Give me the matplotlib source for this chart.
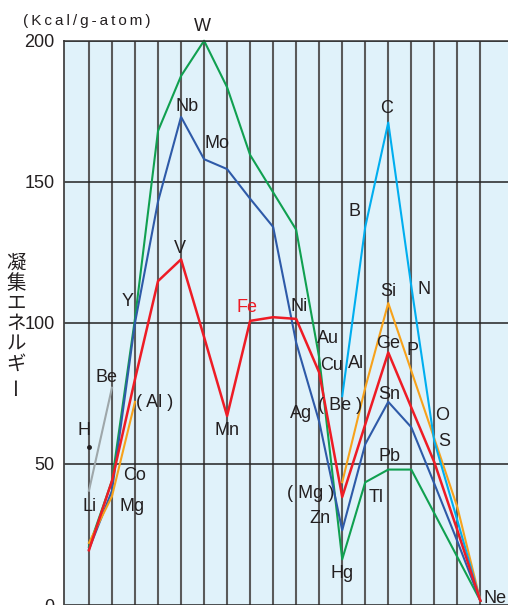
import matplotlib
matplotlib.use("Agg")
import matplotlib.pyplot as plt

# group columns 1..18 of the periodic table
columns = list(range(1, 19))

# cohesive energy (kcal/g-atom)
period2_gray_cols = [1, 2]
period2_gray = [40.5, 77]
period2_cols = [12, 13, 14, 15, 16, 17, 18]
period2 = [74, 134, 171, 113, 58, 30, 1.5]
period3_left_cols = [1, 2, 3]
period3_left = [22, 38.5, 72]
period3_cols = [12, 13, 14, 15, 16, 17, 18]
period3 = [43.5, 77, 107, 83, 59, 34.7, 1.5]
period4 = [19.4, 44, 80, 114.8, 122.5, 95, 67, 100.7, 102, 101.4, 82.4, 38.3,
           64, 89.5, 70, 50.6, 26.5, 1.5]
period5 = [19.7, 40.5, 100, 143, 173, 158, 154.5, 144, 134, 93, 65, 26.5,
           57, 72, 63, 43, 22.6, 1.5]
period6_cols = [1, 2, 3, 4, 5, 6, 7, 8, 10, 11, 12, 13, 14, 15, 18]
period6 = [20.6, 44, 101.5, 168, 187.5, 200, 183.5, 159.5, 133, 87.7, 16.2,
           43.5, 48, 48, 1.5]
hydrogen = (1, 56)

# element labels: (text, column, value)
labels = [
    ("W", 5.93, 205), ("Nb", 5.25, 176.7), ("Mo", 6.55, 163.5),
    ("C", 13.94, 175.8), ("B", 12.53, 139.5), ("N", 15.57, 111.9),
    ("V", 4.96, 126.5), ("Y", 2.68, 107.5), ("Ni", 10.13, 105.7),
    ("Si", 14.0, 111), ("Au", 11.39, 94.4), ("Cu", 11.53, 85),
    ("Al", 12.6, 85.6), ("Ge", 14.0, 92.6), ("P", 15.06, 90.2),
    ("Sn", 14.04, 74.5), ("( Be )", 11.91, 70.7), ("Ag", 10.2, 68),
    ("O", 16.33, 67), ("S", 16.45, 57.9), ("Pb", 14.06, 52.8),
    ("( Mg )", 10.64, 39.6), ("Tl", 13.48, 38.2), ("Zn", 11.04, 30.7),
    ("Hg", 11.99, 11), ("Ne", 18.64, 2.4), ("H", 0.78, 62),
    ("Be", 1.77, 80.7), ("( Al )", 3.87, 71.9), ("Co", 3.0, 46),
    ("Li", 1.01, 35), ("Mg", 2.86, 35), ("Mn", 6.99, 61.8),
]

plt.rcParams['font.family'] = ['Liberation Sans', 'DejaVu Sans']

fig = plt.figure(figsize=(5.08, 6.05), dpi=100)
ax = fig.add_axes([64.3 / 508, 0, 1 - 64.3 / 508, 1 - 40.7 / 605])
ax.set_facecolor("#e0f2fa")
ax.set_xlim(-0.07, 19.2)
ax.set_ylim(0, 200)

ax.set_xticks(columns)
ax.set_xticklabels([])
ax.set_yticks([0, 50, 100, 150, 200])
ax.tick_params(length=0, labelsize=13, labelcolor="#231f20", pad=7)
ax.grid(axis='x', color="#5a5a5a", linewidth=1.5)
ax.grid(axis='y', color="#222222", linewidth=1.1)
ax.set_axisbelow(True)
for side in ['right', 'bottom']:
    ax.spines[side].set_visible(False)
ax.spines['left'].set_color("#444444")
ax.spines['left'].set_linewidth(1.3)
ax.spines['top'].set_color("#333333")
ax.spines['top'].set_linewidth(1.1)

lw = 1.5
ax.plot(period2_gray_cols, period2_gray, color="#9ea7aa", lw=lw)
ax.plot(period6_cols, period6, color="#10a050", lw=lw, clip_on=False)
ax.plot(columns, period5, color="#2e5aa8", lw=lw)
ax.plot(period3_left_cols, period3_left, color="#f7a21b", lw=lw)
ax.plot(period3_cols, period3, color="#f7a21b", lw=lw)
ax.plot(period2_cols, period2, color="#00aeef", lw=lw)
ax.plot(columns, period4, color="#ee1c25", lw=lw + 0.3)
ax.plot(*hydrogen, 'o', color="#231f20", ms=2.5)

for text, x, y in labels:
    ax.text(x, y, text, ha='center', va='center', fontsize=13,
            color="#231f20", clip_on=False)
ax.text(7.87, 105.6, "Fe", ha='center', va='center', fontsize=13,
        color="#ee1c25")

fig.text(87 / 508, 1 - 21 / 605, "(\u2009K\u2009c\u2009a\u2009l\u2009/\u2009g\u2009-\u2009a\u2009t\u2009o\u2009m\u2009)",
         ha='center', va='center', fontsize=11, color="#231f20")

ylabel_chars = ["凝", "集", "エ", "ネ", "ル", "ギ"]
for i, ch in enumerate(ylabel_chars):
    fig.text(16 / 508, 1 - (263 + i * 20.3) / 605, ch, ha='center', va='center',
             fontsize=14, color="#231f20", family=['Noto Sans CJK JP'])
fig.text(16 / 508, 1 - (263 + 6 * 20.3) / 605, "ー", ha='center', va='center',
         fontsize=14, color="#231f20", rotation=90, family=['Noto Sans CJK JP'])

fig.savefig("out.png", dpi=100)
